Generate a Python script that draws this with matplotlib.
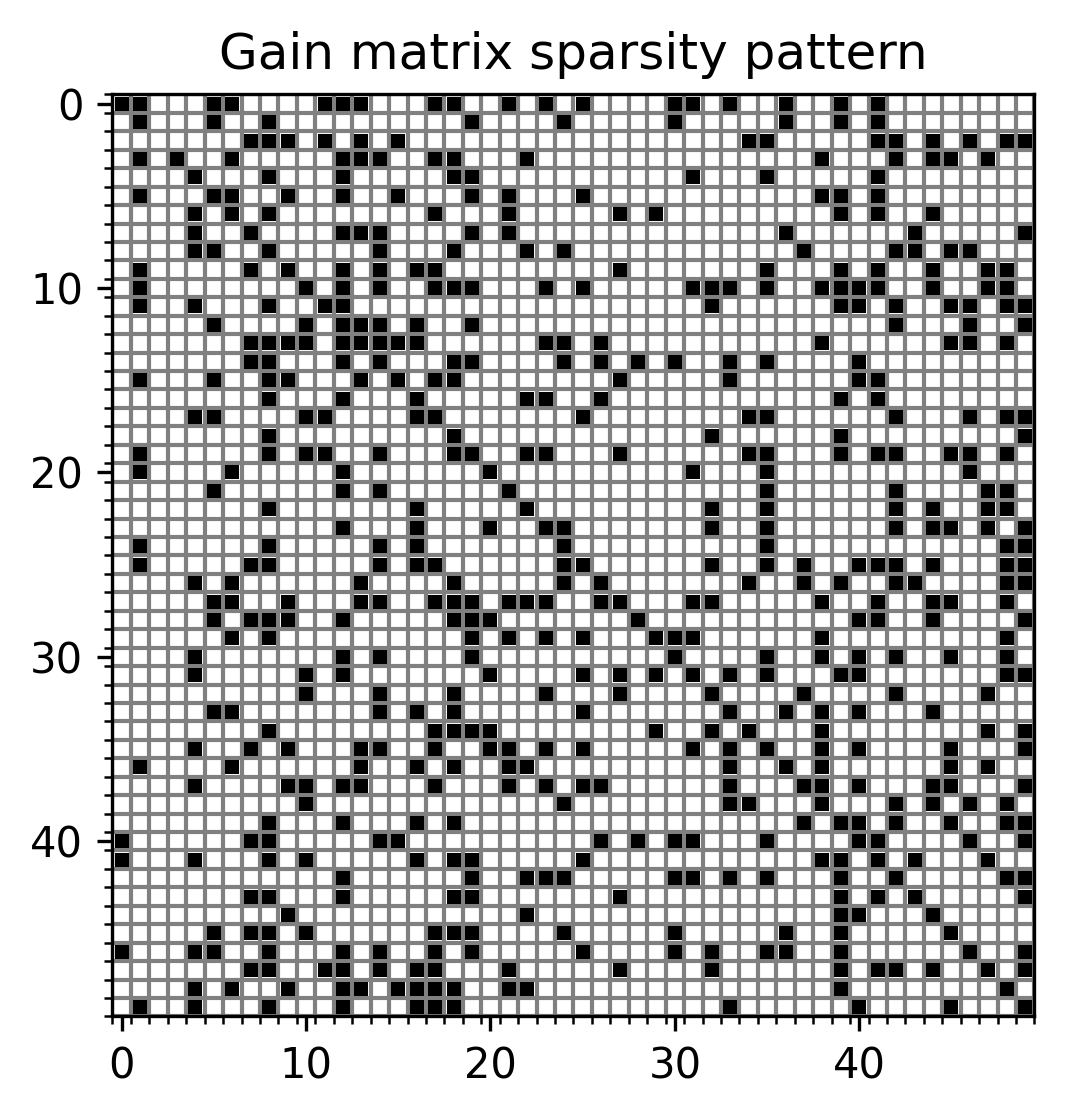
import numpy as np
import matplotlib
matplotlib.use("Agg")
import matplotlib.pyplot as plt
from matplotlib.ticker import MultipleLocator

# nonzero column indices of each row of the gain matrix (50 x 50)
n = 50
rows_00_09 = [
  [0, 1, 5, 6, 11, 12, 13, 17, 18, 21, 23, 25, 30, 31, 33, 36, 39, 41],
  [1, 5, 8, 19, 24, 30, 36, 39, 41],
  [7, 8, 9, 11, 13, 15, 34, 35, 41, 42, 44, 46, 48, 49],
  [1, 3, 6, 12, 13, 14, 17, 18, 22, 38, 42, 44, 45, 47],
  [4, 8, 12, 18, 19, 31, 35, 41],
  [1, 5, 6, 9, 12, 15, 19, 21, 25, 38, 39, 41],
  [4, 6, 8, 17, 21, 27, 29, 39, 41, 44],
  [4, 7, 12, 13, 14, 19, 21, 36, 43, 49],
  [4, 5, 8, 14, 18, 22, 24, 37, 42, 43, 45, 46],
  [1, 7, 9, 12, 14, 16, 17, 27, 35, 39, 41, 44, 47, 48],
]
rows_10_19 = [
  [1, 10, 12, 14, 17, 18, 19, 23, 25, 31, 32, 33, 35, 38, 39, 40, 41, 44, 47, 48],
  [1, 4, 8, 11, 12, 32, 39, 40, 42, 45, 46, 48, 49],
  [5, 10, 12, 13, 14, 16, 19, 42, 46, 49],
  [7, 8, 9, 10, 12, 13, 14, 15, 16, 23, 24, 26, 38, 45, 46, 48],
  [7, 8, 12, 14, 18, 19, 24, 26, 28, 30, 33, 35, 40],
  [1, 5, 8, 9, 13, 15, 17, 18, 27, 33, 40, 41],
  [8, 12, 16, 22, 23, 26, 39, 41],
  [4, 5, 10, 11, 16, 17, 25, 34, 35, 42, 46, 48, 49],
  [8, 18, 32, 39, 49],
  [1, 8, 10, 11, 14, 18, 19, 22, 23, 27, 34, 35, 39, 41, 42, 45, 46, 48],
]
rows_20_29 = [
  [1, 6, 12, 20, 31, 35, 46],
  [5, 12, 14, 21, 35, 42, 47, 48],
  [8, 16, 22, 32, 35, 42, 44, 47, 48],
  [12, 16, 20, 23, 24, 32, 35, 42, 44, 45, 47, 49],
  [1, 8, 14, 16, 24, 35, 48, 49],
  [1, 7, 8, 14, 16, 17, 24, 25, 32, 35, 37, 40, 41, 42, 44, 48, 49],
  [4, 6, 13, 18, 24, 26, 34, 37, 39, 42, 43, 48, 49],
  [5, 6, 9, 13, 14, 17, 18, 19, 21, 22, 23, 26, 27, 31, 32, 38, 41, 44, 45, 48],
  [5, 7, 8, 9, 12, 18, 19, 20, 28, 40, 41, 44, 49],
  [6, 8, 19, 21, 23, 25, 29, 30, 31, 38, 48],
]
rows_30_39 = [
  [4, 12, 14, 19, 30, 35, 38, 40, 42, 45, 48],
  [4, 10, 12, 20, 25, 27, 29, 31, 33, 35, 39, 40, 48, 49],
  [10, 14, 18, 23, 27, 32, 37, 42, 47],
  [5, 6, 14, 16, 18, 25, 33, 36, 38, 40, 44],
  [8, 17, 18, 19, 20, 29, 32, 34, 38, 47, 49],
  [4, 7, 9, 13, 14, 17, 20, 21, 23, 25, 31, 33, 35, 38, 40, 45, 49],
  [1, 6, 13, 16, 18, 21, 22, 33, 36, 38, 45, 47],
  [4, 9, 10, 12, 13, 17, 21, 23, 25, 26, 33, 37, 38, 40, 44, 45, 49],
  [10, 24, 33, 34, 38, 42, 44, 46, 48],
  [8, 12, 16, 18, 37, 39, 40, 42, 45, 48, 49],
]
rows_40_49 = [
  [0, 7, 8, 14, 15, 26, 28, 30, 31, 35, 40, 41, 46, 49],
  [0, 4, 8, 10, 16, 18, 19, 25, 38, 39, 41, 43, 47],
  [12, 19, 22, 23, 24, 30, 31, 33, 35, 39, 42, 48, 49],
  [7, 8, 12, 18, 19, 27, 39, 41, 43, 49],
  [9, 22, 39, 40, 44],
  [5, 7, 8, 10, 17, 18, 19, 24, 30, 36, 39, 45],
  [0, 4, 5, 8, 12, 14, 17, 19, 25, 30, 32, 35, 36, 39, 46, 49],
  [7, 8, 11, 12, 14, 16, 17, 21, 27, 32, 39, 41, 42, 44, 47, 49],
  [4, 6, 9, 12, 13, 15, 16, 17, 18, 21, 22, 39, 48],
  [1, 4, 8, 12, 16, 17, 18, 33, 40, 45, 49],
]

gain = np.zeros((n, n))
for i, cols in enumerate(rows_00_09 + rows_10_19 + rows_20_29 + rows_30_39 + rows_40_49):
  gain[i, cols] = 1.0

fig = plt.figure(figsize=(1069/300, 1116/300), dpi=300)
ax = fig.add_axes([0.1052, 0.0883, 0.8625, 0.8280])
ax.spy(gain, marker='s', markersize=3.5, markeredgewidth=0, color='k')

# cell boundaries as minor ticks, grey grid on them
ax.set_xticks(np.arange(-0.5, n, 1), minor=True)
ax.set_yticks(np.arange(-0.5, n, 1), minor=True)
ax.xaxis.set_major_locator(MultipleLocator(10))
ax.yaxis.set_major_locator(MultipleLocator(10))
ax.grid(which='minor', color='gray', linewidth=1.0)
ax.xaxis.set_ticks_position('bottom')
ax.tick_params(which='both', top=False, right=False, labeltop=False, labelbottom=True)
ax.set_xlim(-0.5, n - 0.5)
ax.set_ylim(n - 0.5, -0.5)

ax.set_title('Gain matrix sparsity pattern')
fig.savefig('out.png', dpi=300)
